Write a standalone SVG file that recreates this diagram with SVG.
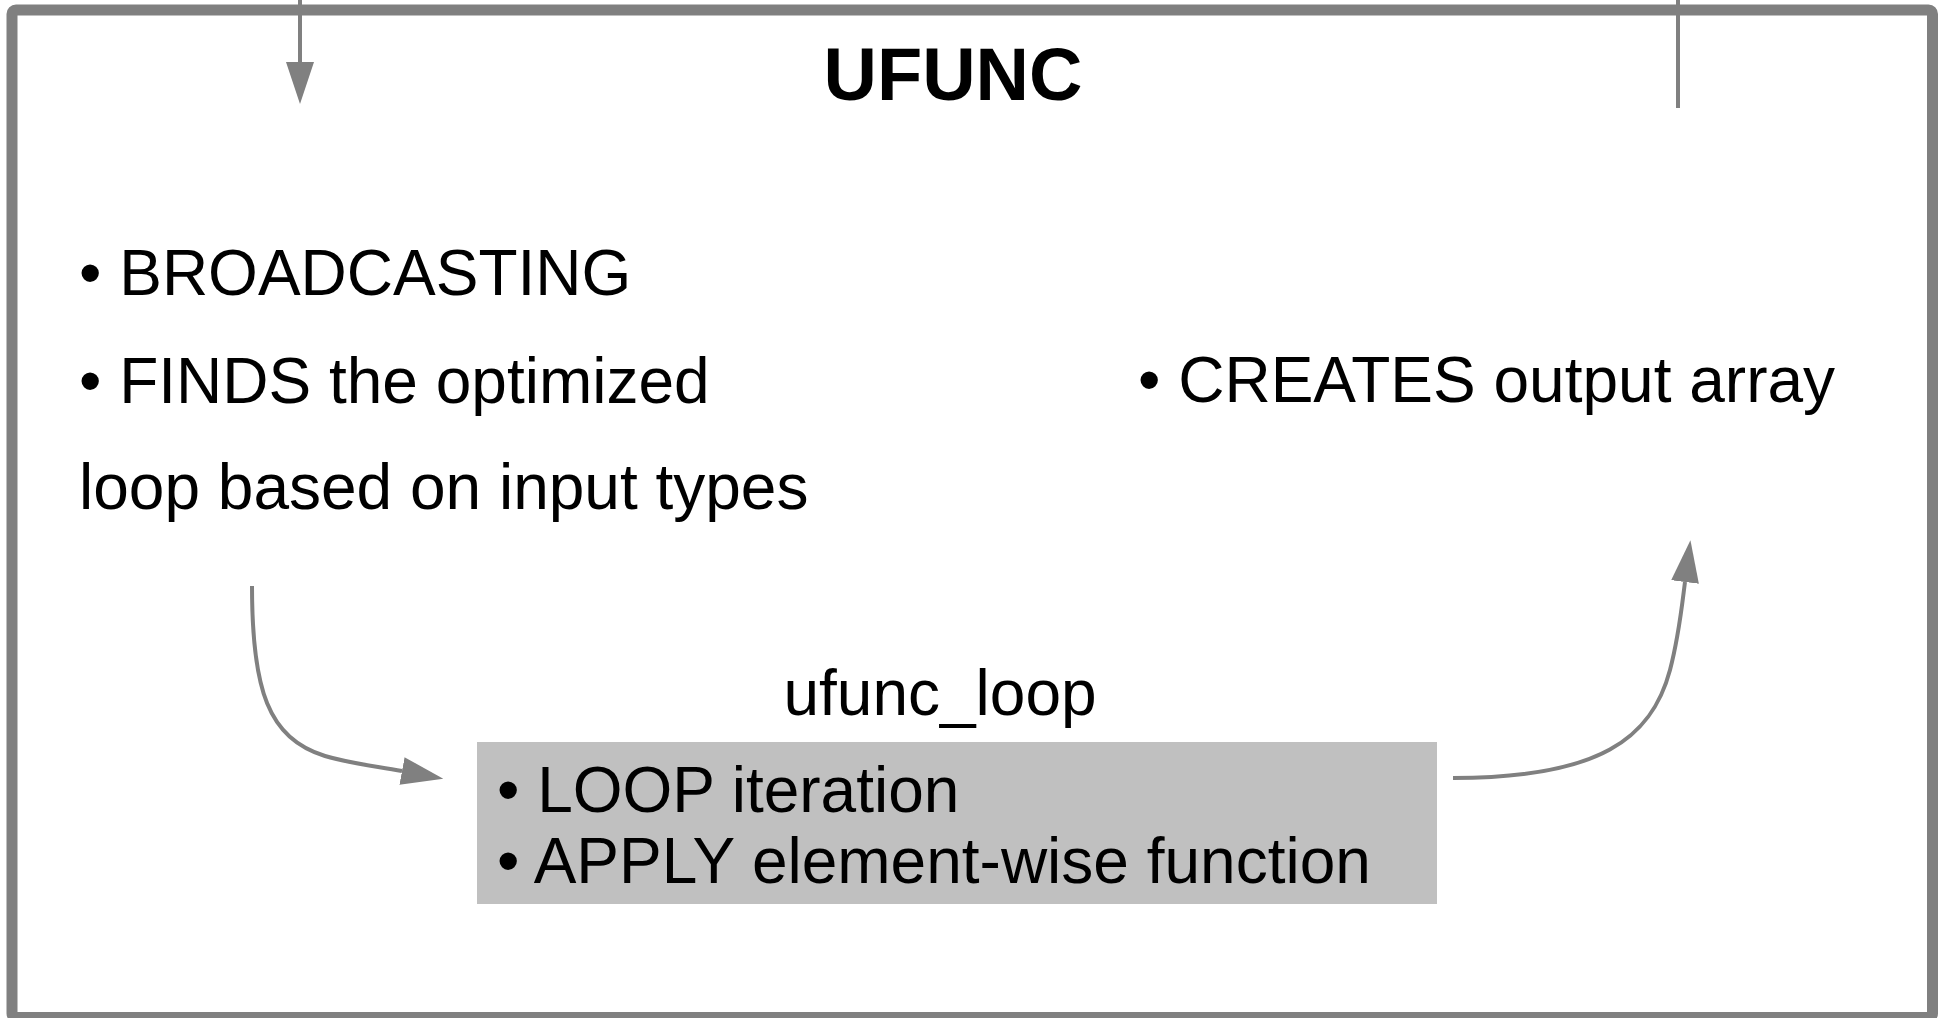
<svg xmlns="http://www.w3.org/2000/svg" width="1947" height="1018" viewBox="0 0 1947 1018">
<style>
  .t { font-family: "Liberation Sans", Arial, sans-serif; font-size: 64px; fill: #000; }
  .title { font-family: "Liberation Sans", Arial, sans-serif; font-size: 74px; font-weight: bold; fill: #000; }
  .conn { fill: none; stroke: #808080; stroke-width: 4; }
</style>
<defs>
  <marker id="arr" markerUnits="userSpaceOnUse" viewBox="0 0 42 28" refX="0" refY="14" markerWidth="42" markerHeight="28" orient="auto">
    <path d="M0,0 L42,14 L0,28 Z" fill="#808080"/>
  </marker>
</defs>
<rect x="0" y="0" width="1947" height="1018" fill="#fff"/>
<g id="ufunc">
  <rect x="12" y="10" width="1920.5" height="1007.5" rx="4" fill="#fff" stroke="#808080" stroke-width="11"/>
  <text class="title" x="953" y="100" text-anchor="middle">UFUNC</text>
</g>
<g id="left-text">
  <text class="t" x="79" y="295">• BROADCASTING</text>
  <text class="t" x="79" y="403">• FINDS the optimized</text>
  <text class="t" x="79" y="509">loop based on input types</text>
</g>
<g id="right-text">
  <text class="t" x="1138" y="402">• CREATES output array</text>
</g>
<g id="ufunc_loop">
  <text class="t" x="940" y="715" text-anchor="middle">ufunc_loop</text>
  <rect x="477" y="742" width="960" height="162" fill="#c0c0c0"/>
  <text class="t" x="497" y="812">• LOOP iteration</text>
  <text class="t" x="497" y="883">• APPLY element-wise function</text>
</g>
<g id="connectors">
  <path class="conn" d="M300,0 L300,62" marker-end="url(#arr)"/>
  <path class="conn" d="M1678,0 L1678,108"/>
  <path class="conn" d="M252,586 C252,690 268,738 325,756 C352,764 375,766 402,771" marker-end="url(#arr)"/>
  <path class="conn" d="M1453,778 C1600,778 1652,738 1670,670 C1679,636 1682,605 1685,582" marker-end="url(#arr)"/>
</g>
</svg>
